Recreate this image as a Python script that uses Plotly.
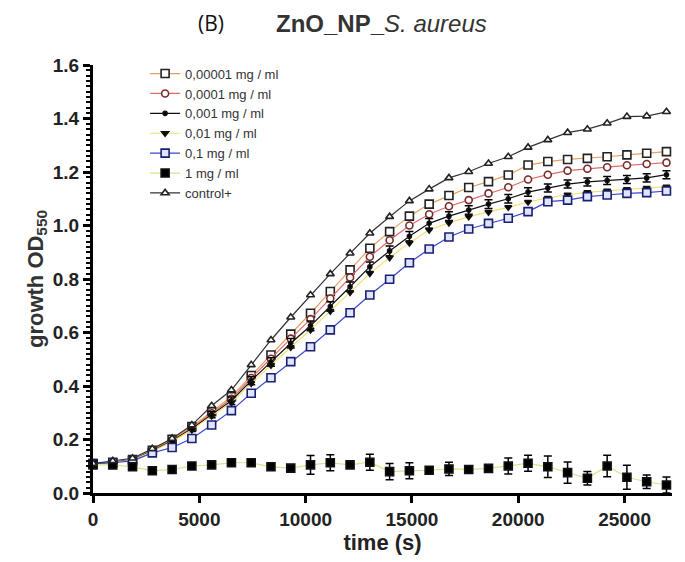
import plotly.graph_objects as go

# Sampling times (s)
time_s = [0, 930, 1860, 2790, 3720, 4650, 5580, 6510, 7440, 8370, 9300, 10230,
          11160, 12090, 13020, 13950, 14880, 15810, 16740, 17670, 18600, 19530,
          20460, 21390, 22320, 23250, 24180, 25110, 26040, 26970]

# Growth (OD550) per ZnO NP concentration
od_1e5 = [0.11, 0.115, 0.125, 0.16, 0.201, 0.248, 0.304, 0.360, 0.439, 0.516, 0.594, 0.672,
          0.753, 0.834, 0.915, 0.977, 1.035, 1.080, 1.112, 1.142, 1.164, 1.189, 1.226, 1.239,
          1.247, 1.251, 1.257, 1.264, 1.270, 1.276]
od_1e4 = [0.11, 0.115, 0.125, 0.158, 0.197, 0.243, 0.298, 0.352, 0.430, 0.502, 0.577, 0.650,
          0.727, 0.806, 0.883, 0.945, 1.000, 1.042, 1.072, 1.095, 1.120, 1.143, 1.172, 1.190,
          1.205, 1.212, 1.218, 1.225, 1.230, 1.235]
od_1e3 = [0.11, 0.115, 0.124, 0.157, 0.195, 0.240, 0.293, 0.345, 0.420, 0.490, 0.560, 0.625,
          0.697, 0.771, 0.846, 0.905, 0.960, 1.008, 1.035, 1.058, 1.080, 1.100, 1.125, 1.140,
          1.155, 1.163, 1.168, 1.172, 1.178, 1.190]
err_1e3 = [0.004, 0.004, 0.005, 0.006, 0.008, 0.010, 0.012, 0.014, 0.015, 0.016, 0.018, 0.018,
           0.018, 0.018, 0.018, 0.018, 0.018, 0.018, 0.016, 0.016, 0.016, 0.016, 0.016, 0.015,
           0.015, 0.015, 0.015, 0.015, 0.015, 0.015]
od_1e2 = [0.11, 0.114, 0.123, 0.155, 0.192, 0.236, 0.288, 0.338, 0.410, 0.478, 0.545, 0.610,
          0.680, 0.750, 0.821, 0.880, 0.935, 0.983, 1.010, 1.033, 1.050, 1.068, 1.088, 1.103,
          1.115, 1.124, 1.130, 1.135, 1.140, 1.145]
od_1e1 = [0.11, 0.113, 0.12, 0.15, 0.170, 0.204, 0.254, 0.308, 0.373, 0.431, 0.491, 0.547,
          0.610, 0.674, 0.740, 0.799, 0.861, 0.912, 0.957, 0.987, 1.008, 1.027, 1.052, 1.089,
          1.095, 1.108, 1.114, 1.120, 1.123, 1.129]
od_1 = [0.105, 0.105, 0.098, 0.083, 0.088, 0.101, 0.105, 0.113, 0.113, 0.098, 0.093, 0.105,
        0.113, 0.105, 0.115, 0.080, 0.083, 0.085, 0.090, 0.088, 0.092, 0.101, 0.111, 0.098,
        0.076, 0.055, 0.101, 0.059, 0.042, 0.030]
err_1 = [0.005, 0.005, 0.005, 0.004, 0.004, 0.005, 0.005, 0.005, 0.006, 0.010, 0.012, 0.035,
         0.030, 0.012, 0.030, 0.030, 0.030, 0.005, 0.025, 0.006, 0.006, 0.030, 0.030, 0.040,
         0.040, 0.025, 0.040, 0.045, 0.025, 0.030]
od_control = [0.11, 0.12, 0.13, 0.165, 0.204, 0.254, 0.326, 0.385, 0.479, 0.572, 0.657, 0.740,
              0.819, 0.896, 0.971, 1.033, 1.092, 1.136, 1.178, 1.201, 1.232, 1.257, 1.292, 1.320,
              1.347, 1.360, 1.382, 1.407, 1.409, 1.425]

labels = ["0,00001 mg / ml", "0,0001 mg / ml", "0,001 mg / ml", "0,01 mg / ml",
          "0,1 mg / ml", "1 mg / ml", "control+"]

x_ticks = [0, 5000, 10000, 15000, 20000, 25000]

FONT = "Liberation Sans, Arial, sans-serif"

fig = go.Figure()


def add(y, name, line_color, symbol, mline, size, err=None, fill="white"):
    fig.add_trace(go.Scatter(
        x=time_s, y=y, name=name, mode="lines+markers", cliponaxis=False,
        line=dict(color=line_color, width=1.2),
        marker=dict(symbol=symbol, size=size, color=fill,
                    line=dict(color=mline, width=1.6)),
        error_y=None if err is None else dict(type="data", array=err, visible=True,
                                              color="black", thickness=1.5, width=4),
    ))


add(od_1e5, labels[0], "#e8a060", "square", "#222222", 8)
add(od_1e4, labels[1], "#e06a6a", "circle", "#7a2a2a", 7)
add(od_1e3, labels[2], "#111111", "circle", "#111111", 4, err=err_1e3, fill="black")
add(od_1e2, labels[3], "#f0e070", "triangle-down", "#111111", 6, fill="black")
add(od_1e1, labels[4], "#3848d0", "square", "#1a2070", 8, fill="#dfe4ff")
add(od_1, labels[5], "#cde88a", "square", "#111111", 8, err=err_1, fill="black")
add(od_control, labels[6], "#333333", "triangle-up", "#222222", 7)

fig.update_layout(
    width=685, height=562,
    margin=dict(l=93, r=13, t=65, b=69),
    paper_bgcolor="white", plot_bgcolor="white",
    font=dict(family=FONT, color="#222222"),
    showlegend=True,
    legend=dict(x=0.09, y=1.015, xanchor="left", yanchor="top",
                bgcolor="rgba(0,0,0,0)", font=dict(size=13, color="#333333"),
                tracegroupgap=0, itemwidth=30),
    xaxis=dict(
        range=[0, 27230], tickvals=x_ticks, ticktext=[str(v) for v in x_ticks],
        ticks="outside", ticklen=7, tickwidth=2.5, tickcolor="black",
        showline=True, linecolor="black", linewidth=3,
        showgrid=False, zeroline=False,
        tickfont=dict(size=19, family=FONT, color="#222222", weight="bold"),
        title=dict(text="<b>time (s)</b>", font=dict(size=22, color="#222222"), standoff=6),
    ),
    yaxis=dict(
        range=[0, 1.6], dtick=0.2, tick0=0, tickformat=".1f",
        ticks="outside", ticklen=7, tickwidth=2.5, tickcolor="black",
        minor=dict(dtick=0.02, ticks="outside", ticklen=4, tickwidth=1.5, tickcolor="black"),
        showline=True, linecolor="black", linewidth=3,
        showgrid=False, zeroline=False,
        tickfont=dict(size=19, family=FONT, color="#222222", weight="bold"),
        title=dict(text="<b>growth OD<sub>550</sub></b>", font=dict(size=22, color="#333333"),
                   standoff=4),
    ),
    annotations=[
        dict(text="(B)", xref="paper", yref="paper", x=0.204, y=1.098,
             xanchor="center", yanchor="middle", showarrow=False,
             font=dict(size=21, family="Open Sans, sans-serif", color="#111111")),
        dict(text="<b>ZnO_NP_</b><i>S. aureus</i>", xref="paper", yref="paper",
             x=0.498, y=1.098, xanchor="center", yanchor="middle", showarrow=False,
             font=dict(size=24, family=FONT, color="#333333")),
    ],
)

fig.write_html("out.html")
